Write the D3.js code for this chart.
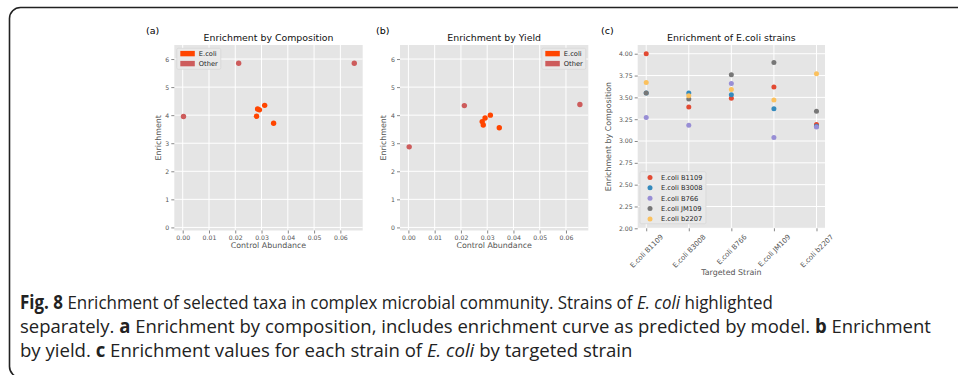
<!DOCTYPE html>
<html>
<head>
<meta charset="utf-8">
<script src="https://cdn.jsdelivr.net/npm/d3@7"></script>
<style>
  body { margin: 0; background: #fff; }
  svg { display: block; }
</style>
</head>
<body>
<div id="fig"></div>
<script>
// panel (a) and (b) data
const abTicks = [0, 0.01, 0.02, 0.03, 0.04, 0.05, 0.06];
const enrTicks = [0, 1, 2, 3, 4, 5, 6];
const ecoliAbund = [0.0281, 0.0285, 0.0292, 0.0312, 0.0346];
const ecoliComp = [3.96, 4.22, 4.19, 4.35, 3.71];
const ecoliYield = [3.77, 3.65, 3.90, 4.00, 3.55];
const otherAbund = [0.0003, 0.0213, 0.0653];
const otherComp = [3.95, 5.85, 5.85];
const otherYield = [2.87, 4.34, 4.38];

// panel (c) data
const strains = ["E.coli B1109", "E.coli B3008", "E.coli B766", "E.coli JM109", "E.coli b2207"];
const b1109 = [4.00, 3.39, 3.49, 3.62, 3.19];
const b3008 = [3.55, 3.55, 3.53, 3.37, 3.17];
const b766 = [3.27, 3.18, 3.66, 3.04, 3.16];
const jm109 = [3.55, 3.48, 3.76, 3.90, 3.34];
const b2207 = [3.67, 3.52, 3.59, 3.47, 3.77];
const compTicks = [2.00, 2.25, 2.50, 2.75, 3.00, 3.25, 3.50, 3.75, 4.00];

const W = 958, H = 375;
const font = "DejaVu Sans, sans-serif";
const bg = "#E5E5E5";

const svg = d3.select("#fig").append("svg")
    .attr("width", W)
    .attr("height", H);

svg.append("rect").attr("width", W).attr("height", H).attr("fill", "#fff");

// outer frame
svg.append("rect")
    .attr("x", 9.5).attr("y", 7.5)
    .attr("width", 1000).attr("height", 370)
    .attr("rx", 11)
    .attr("fill", "none")
    .attr("stroke", "#222")
    .attr("stroke-width", 1.6);

function panel(opt) {
    const g = svg.append("g");
    const x = opt.x, y = opt.y;
    const [x0, x1] = x.range(), [y0, y1] = y.range();

    g.append("rect")
        .attr("x", x0).attr("y", y1)
        .attr("width", x1 - x0).attr("height", y0 - y1)
        .attr("fill", bg);

    // grid
    g.selectAll(".gx").data(opt.xTicks).enter().append("line")
        .attr("x1", d => x(d)).attr("x2", d => x(d))
        .attr("y1", y1).attr("y2", y0)
        .attr("stroke", "#fff").attr("stroke-width", 1);
    g.selectAll(".gy").data(opt.yTicks).enter().append("line")
        .attr("x1", x0).attr("x2", x1)
        .attr("y1", d => y(d)).attr("y2", d => y(d))
        .attr("stroke", "#fff").attr("stroke-width", 1);

    // axes
    const xa = g.append("g")
        .attr("transform", `translate(0,${y0})`)
        .call(d3.axisBottom(x).tickValues(opt.xTicks).tickFormat(opt.xFormat).tickSize(3).tickPadding(2));
    const ya = g.append("g")
        .attr("transform", `translate(${x0},0)`)
        .call(d3.axisLeft(y).tickValues(opt.yTicks).tickFormat(opt.yFormat).tickSize(3).tickPadding(2));
    [xa, ya].forEach(a => {
        a.select(".domain").remove();
        a.selectAll("line").attr("stroke", "#555").attr("stroke-width", 0.7);
        a.selectAll("text").attr("fill", "#555").style("font-family", font).style("font-size", "6.2px");
    });
    if (opt.rotate) {
        // matplotlib style: rotated label centred under its tick, top of its box at the pad
        xa.selectAll("text")
            .style("font-size", "7px")
            .attr("text-anchor", "middle")
            .attr("y", 0).attr("dy", "0.32em")
            .attr("transform", function() {
                const L = this.getComputedTextLength();
                const cy = 5 + (L + 7) * 0.7071 / 2;
                return `translate(0,${cy}) rotate(-45)`;
            });
    }

    // labels
    g.append("text")
        .attr("x", opt.labelX).attr("y", 33.5)
        .style("font-family", font).style("font-size", "9.5px")
        .text(opt.letter);
    g.append("text")
        .attr("x", (x0 + x1) / 2).attr("y", 40.5)
        .attr("text-anchor", "middle")
        .style("font-family", font).style("font-size", "9.4px")
        .attr("fill", "#111")
        .text(opt.title);
    g.append("text")
        .attr("x", (x0 + x1) / 2).attr("y", opt.xLabelY)
        .attr("text-anchor", "middle")
        .style("font-family", font).style("font-size", "7.9px")
        .attr("fill", "#555")
        .text(opt.xLabel);
    g.append("text")
        .attr("transform", `translate(${opt.yLabelX},${(y0 + y1) / 2}) rotate(-90)`)
        .attr("text-anchor", "middle")
        .style("font-family", font).style("font-size", "7.9px")
        .attr("fill", "#555")
        .text(opt.yLabel);
    return g;
}

function scatter(g, x, y, xs, ys, color, r) {
    g.append("g").selectAll("circle")
        .data(xs.map((d, i) => [d, ys[i]]))
        .enter().append("circle")
        .attr("cx", d => x(d[0]))
        .attr("cy", d => y(d[1]))
        .attr("r", r)
        .attr("fill", color);
}

function patchLegend(g, lx, ly, w, items) {
    g.append("rect")
        .attr("x", lx).attr("y", ly)
        .attr("width", w).attr("height", 21)
        .attr("rx", 1.5)
        .attr("fill", "#E9E9E9")
        .attr("stroke", "#D6D6D6").attr("stroke-width", 0.7);
    items.forEach((it, i) => {
        g.append("rect")
            .attr("x", lx + 3.5).attr("y", ly + 2.6 + i * 10)
            .attr("width", 14.5).attr("height", 5.4)
            .attr("fill", it.color);
        g.append("text")
            .attr("x", lx + 22).attr("y", ly + 5.3 + i * 10)
            .attr("dy", "0.35em")
            .style("font-family", font).style("font-size", "6.7px")
            .attr("fill", "#222")
            .text(it.label);
    });
}

const ecoliColor = "#FF4500", otherColor = "#CD5C5C";
const abFmt = d3.format(".2f"), intFmt = d3.format("d");

// (a)
const xa = d3.scaleLinear().domain([-0.0032, 0.0685]).range([174.3, 362.7]);
const ya = d3.scaleLinear().domain([-0.11, 6.5]).range([230.5, 45]);
const ga = panel({
    x: xa, y: ya, xTicks: abTicks, yTicks: enrTicks, xFormat: abFmt, yFormat: intFmt,
    letter: "(a)", labelX: 146, title: "Enrichment by Composition",
    xLabel: "Control Abundance", xLabelY: 248, yLabel: "Enrichment", yLabelX: 160.5
});
scatter(ga, xa, ya, ecoliAbund, ecoliComp, ecoliColor, 2.7);
scatter(ga, xa, ya, otherAbund, otherComp, otherColor, 2.7);
patchLegend(ga, 176.8, 48.3, 44, [{label: "E.coli", color: ecoliColor}, {label: "Other", color: otherColor}]);

// (b)
const xb = d3.scaleLinear().domain([-0.0032, 0.0685]).range([400, 588.3]);
const gb = panel({
    x: xb, y: ya, xTicks: abTicks, yTicks: enrTicks, xFormat: abFmt, yFormat: intFmt,
    letter: "(b)", labelX: 376, title: "Enrichment by Yield",
    xLabel: "Control Abundance", xLabelY: 248, yLabel: "Enrichment", yLabelX: 386
});
scatter(gb, xb, ya, ecoliAbund, ecoliYield, ecoliColor, 2.7);
scatter(gb, xb, ya, otherAbund, otherYield, otherColor, 2.7);
patchLegend(gb, 541.8, 48.3, 44, [{label: "E.coli", color: ecoliColor}, {label: "Other", color: otherColor}]);

// (c)
const idx = d3.range(strains.length);
const xc = d3.scaleLinear().domain([-0.2, 4.2]).range([637.7, 825]);
const yc = d3.scaleLinear().domain([2, 4.1]).range([228.3, 45]);
const gc = panel({
    x: xc, y: yc, xTicks: idx, yTicks: compTicks, xFormat: i => strains[i], yFormat: d3.format(".2f"),
    letter: "(c)", labelX: 601, title: "Enrichment of E.coli strains", rotate: true,
    xLabel: "Targeted Strain", xLabelY: 275, yLabel: "Enrichment by Composition", yLabelX: 611
});
const series = [
    {name: strains[0], values: b1109, color: "#E24A33"},
    {name: strains[1], values: b3008, color: "#348ABD"},
    {name: strains[2], values: b766, color: "#988ED5"},
    {name: strains[3], values: jm109, color: "#777777"},
    {name: strains[4], values: b2207, color: "#FBC15E"}
];
series.forEach(s => scatter(gc, xc, yc, idx, s.values, s.color, 2.5));

// legend (c)
const lc = gc.append("g");
lc.append("rect")
    .attr("x", 640).attr("y", 171.7)
    .attr("width", 66).attr("height", 52)
    .attr("rx", 1.5)
    .attr("fill", "#E9E9E9")
    .attr("stroke", "#D6D6D6").attr("stroke-width", 0.7);
series.forEach((s, i) => {
    lc.append("circle")
        .attr("cx", 650).attr("cy", 177.4 + i * 10.4)
        .attr("r", 2.5).attr("fill", s.color);
    lc.append("text")
        .attr("x", 661).attr("y", 177.4 + i * 10.4)
        .attr("dy", "0.35em")
        .style("font-family", font).style("font-size", "6.7px")
        .attr("fill", "#222")
        .text(s.name);
});

// caption, squeezed horizontally to match the narrow journal font
const capFont = "'Open Sans', sans-serif";
const lines = [
    {y: 309, len: 753, parts: [
        {t: "Fig. 8", b: true}, {t: " Enrichment of selected taxa in complex microbial community. Strains of "},
        {t: "E. coli", i: true}, {t: " highlighted"}]},
    {y: 333, len: 911, parts: [
        {t: "separately. "}, {t: "a", b: true},
        {t: " Enrichment by composition, includes enrichment curve as predicted by model. "},
        {t: "b", b: true}, {t: " Enrichment"}]},
    {y: 356.5, len: 613, parts: [
        {t: "by yield. "}, {t: "c", b: true}, {t: " Enrichment values for each strain of "},
        {t: "E. coli", i: true}, {t: " by targeted strain"}]}
];
lines.forEach(l => {
    const t = svg.append("text")
        .attr("x", 0).attr("y", 0)
        .style("font-family", capFont).style("font-size", "19px")
        .attr("fill", "#222");
    l.parts.forEach(p => {
        t.append("tspan")
            .style("font-weight", p.b ? "bold" : "normal")
            .style("font-style", p.i ? "italic" : "normal")
            .text(p.t);
    });
    const natural = t.node().getComputedTextLength();
    t.attr("transform", `translate(20,${l.y}) scale(${l.len / natural},1)`);
});
</script>
</body>
</html>
